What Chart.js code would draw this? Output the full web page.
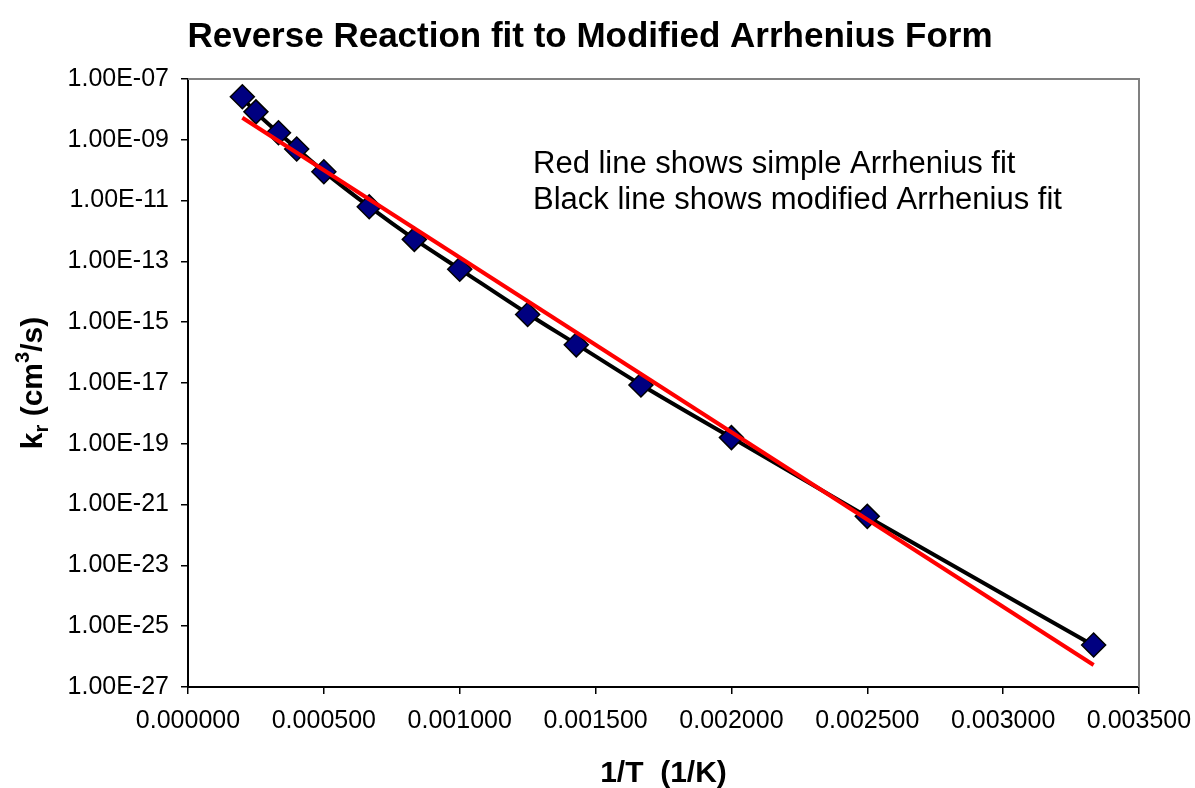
<!DOCTYPE html>
<html>
<head>
<meta charset="utf-8">
<script src="https://cdn.jsdelivr.net/npm/chart.js@4.4.0/dist/chart.umd.min.js"></script>
<style>
  body { margin: 0; background: #fff; }
  #wrap { width: 1195px; height: 788px; }
</style>
</head>
<body>
<div id="wrap"><canvas id="arrChart" width="1195" height="788"></canvas></div>
<script>
// data
const invT = [0.0002, 0.00025, 0.000333, 0.0004, 0.0005, 0.000667, 0.000833, 0.001, 0.00125, 0.001429, 0.001667, 0.002, 0.0025, 0.003333];
const krMeasured = [2.6e-8, 8.3e-9, 1.7e-9, 5.0e-10, 8.9e-11, 6.3e-12, 5.3e-13, 5.5e-14, 1.8e-15, 1.8e-16, 8.6e-18, 1.6e-19, 4.1e-22, 2.4e-26];
const krModifiedFit = [2.4e-8, 8.0e-9, 1.7e-9, 5.2e-10, 9.0e-11, 6.3e-12, 5.4e-13, 5.6e-14, 1.9e-15, 1.9e-16, 8.8e-18, 1.6e-19, 4.0e-22, 2.3e-26];
const simpleFitX = [0.0002, 0.003333];
const simpleFitY = [5.3e-9, 5.3e-27];
const yTickValues = [1e-7, 1e-9, 1e-11, 1e-13, 1e-15, 1e-17, 1e-19, 1e-21, 1e-23, 1e-25, 1e-27];

const FONT = '"Liberation Sans", Arial, sans-serif';

function sciLabel(v) {
    const e = Math.round(Math.log10(v));
    return '1.00E' + (e < 0 ? '-' : '+') + String(Math.abs(e)).padStart(2, '0');
}

const toPoints = (xs, ys) => xs.map((x, i) => ({ x: x, y: ys[i] }));

// frame, title, note and axis titles
const textPlugin = {
    id: 'texts',
    beforeDatasetsDraw(chart) {
        const { ctx, chartArea: a } = chart;
        ctx.save();
        ctx.strokeStyle = '#808080';
        ctx.lineWidth = 2;
        ctx.beginPath();
        ctx.moveTo(a.left, a.top);
        ctx.lineTo(a.right, a.top);
        ctx.lineTo(a.right, a.bottom);
        ctx.stroke();
        ctx.restore();
    },
    afterDraw(chart) {
        const { ctx, chartArea: a } = chart;
        ctx.save();
        ctx.fillStyle = '#000';
        ctx.textBaseline = 'middle';

        ctx.font = 'bold 35px ' + FONT;
        ctx.textAlign = 'center';
        ctx.fillText('Reverse Reaction fit to Modified Arrhenius Form', 590, 37);

        ctx.font = '31px ' + FONT;
        ctx.textAlign = 'left';
        ctx.fillText('Red line shows simple Arrhenius fit', 533, 164);
        ctx.fillText('Black line shows modified Arrhenius fit', 533, 200);

        ctx.font = 'bold 30px ' + FONT;
        ctx.textAlign = 'center';
        ctx.fillText('1/T  (1/K)', (a.left + a.right) / 2, 774);

        // y title with subscript / superscript
        const parts = [
            { t: 'k', size: 30, dy: 0 },
            { t: 'r', size: 20, dy: 8 },
            { t: ' (cm', size: 30, dy: 0 },
            { t: '3', size: 20, dy: -11 },
            { t: '/s)', size: 30, dy: 0 }
        ];
        let total = 0;
        parts.forEach(p => { ctx.font = 'bold ' + p.size + 'px ' + FONT; p.w = ctx.measureText(p.t).width; total += p.w; });
        ctx.translate(34, (a.top + a.bottom) / 2);
        ctx.rotate(-Math.PI / 2);
        ctx.textAlign = 'left';
        let x = -total / 2;
        parts.forEach(p => {
            ctx.font = 'bold ' + p.size + 'px ' + FONT;
            ctx.fillText(p.t, x, p.dy);
            x += p.w;
        });
        ctx.restore();
    }
};

new Chart(document.getElementById('arrChart'), {
    type: 'scatter',
    data: {
        datasets: [
            { label: 'Simple fit', data: toPoints(simpleFitX, simpleFitY), showLine: true, borderColor: '#ff0000', borderWidth: 4, pointRadius: 0, fill: false },
            { label: 'k_r', data: toPoints(invT, krMeasured), showLine: false, pointStyle: 'rectRot', pointRadius: 12, pointHoverRadius: 12, backgroundColor: '#000080', borderColor: '#000', borderWidth: 1.5 },
            { label: 'Modified fit', data: toPoints(invT, krModifiedFit), showLine: true, borderColor: '#000', borderWidth: 4, pointRadius: 0, fill: false, tension: 0.3, cubicInterpolationMode: 'monotone' }
        ]
    },
    options: {
        responsive: false,
        animation: false,
        layout: { padding: { top: 79, right: 56, left: 0, bottom: 0 } },
        plugins: { legend: { display: false }, tooltip: { enabled: false }, title: { display: false } },
        scales: {
            x: {
                type: 'linear',
                min: 0,
                max: 0.0035,
                afterFit(scale) { scale.height = 101; scale.paddingLeft = 0; scale.paddingRight = 0; },
                border: { color: '#000', width: 2 },
                grid: { drawOnChartArea: false, drawTicks: true, tickLength: 7, color: '#000', lineWidth: 1.5 },
                ticks: { stepSize: 0.0005, color: '#000', padding: 12, maxRotation: 0, font: { family: FONT, size: 25 }, callback: v => v.toFixed(6) }
            },
            y: {
                type: 'logarithmic',
                min: 1e-27,
                max: 1e-7,
                afterFit(scale) { scale.width = 188; scale.paddingTop = 0; scale.paddingBottom = 0; },
                afterBuildTicks(scale) { scale.ticks = yTickValues.map(v => ({ value: v })); },
                border: { color: '#000', width: 2 },
                grid: { drawOnChartArea: false, drawTicks: true, tickLength: 7, color: '#000', lineWidth: 1.5 },
                ticks: { color: '#000', padding: 12, font: { family: FONT, size: 25 }, callback: v => sciLabel(v) }
            }
        }
    },
    plugins: [textPlugin]
});
</script>
</body>
</html>
